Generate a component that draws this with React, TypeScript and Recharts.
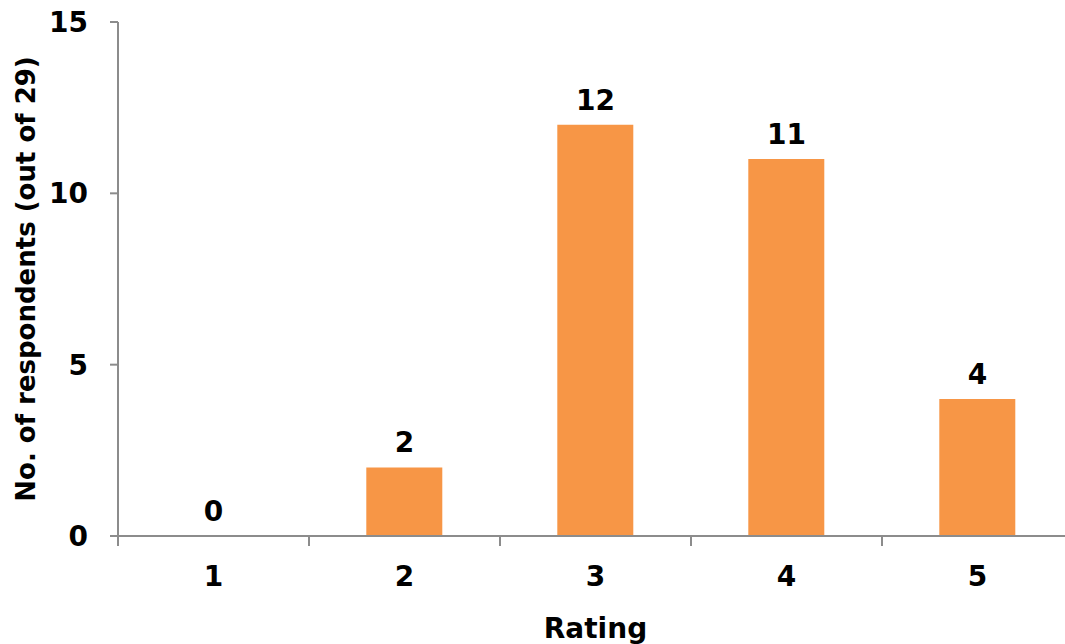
import { Bar, ComposedChart, LabelList, Line, XAxis, YAxis } from "recharts";

const ratings = ["1", "2", "3", "4", "5"];
const respondents = [0, 2, 12, 11, 4];
const yTicks = [0, 5, 10, 15];

const data = ratings.map((rating, i) => ({ rating, count: respondents[i] }));

const font = "'DejaVu Sans', sans-serif";
const axisColor = "#8c8c8c";
const textStyle = { fill: "#000", fontSize: 28, fontWeight: 700, fontFamily: font };

// tick marks sit on the category boundaries, label in the middle
function RatingTick(props: any) {
  const { x, y, payload, index, visibleTicksCount } = props;
  const half = payload.offset || 0;
  const isLast = index === visibleTicksCount - 1;
  return (
    <g>
      <line x1={x - half} x2={x - half} y1={y} y2={y + 10} stroke={axisColor} strokeWidth={2} />
      {isLast ? (
        <line x1={x + half} x2={x + half} y1={y} y2={y + 10} stroke={axisColor} strokeWidth={2} />
      ) : null}
      <text x={x} y={y + 30} dy="0.71em" textAnchor="middle" {...textStyle}>
        {payload.value}
      </text>
    </g>
  );
}

export default function App() {
  return (
    <div
      style={{
        position: "absolute",
        left: 0,
        top: 0,
        width: 1065,
        height: 644,
        overflow: "hidden",
        background: "#fff"
      }}
    >
      <ComposedChart
        width={1073}
        height={644}
        data={data}
        margin={{ top: 22, right: 0, left: 0, bottom: 28 }}
        barCategoryGap="30%"
      >
        <XAxis
          dataKey="rating"
          height={80}
          tickLine={false}
          axisLine={{ stroke: axisColor, strokeWidth: 2 }}
          tickSize={0}
          tickMargin={0}
          interval={0}
          tick={<RatingTick />}
          label={{ value: "Rating", position: "insideBottom", offset: -22, ...textStyle }}
        />
        <YAxis
          width={118}
          domain={[0, 15]}
          ticks={yTicks}
          interval={0}
          tickLine={{ stroke: axisColor, strokeWidth: 2 }}
          axisLine={{ stroke: axisColor, strokeWidth: 2 }}
          tickSize={8}
          tickMargin={22}
          tick={textStyle}
          label={{
            value: "No. of respondents (out of 29)",
            angle: -90,
            position: "insideLeft",
            offset: 26,
            style: { textAnchor: "middle" },
            fill: "#000",
            fontSize: 26,
            fontWeight: 700,
            fontFamily: font
          }}
        />
        <Bar dataKey="count" fill="#F79646" isAnimationActive={false} />
        <Line dataKey="count" stroke="none" dot={false} activeDot={false} isAnimationActive={false}>
          <LabelList dataKey="count" position="top" offset={15} {...textStyle} />
        </Line>
      </ComposedChart>
    </div>
  );
}
